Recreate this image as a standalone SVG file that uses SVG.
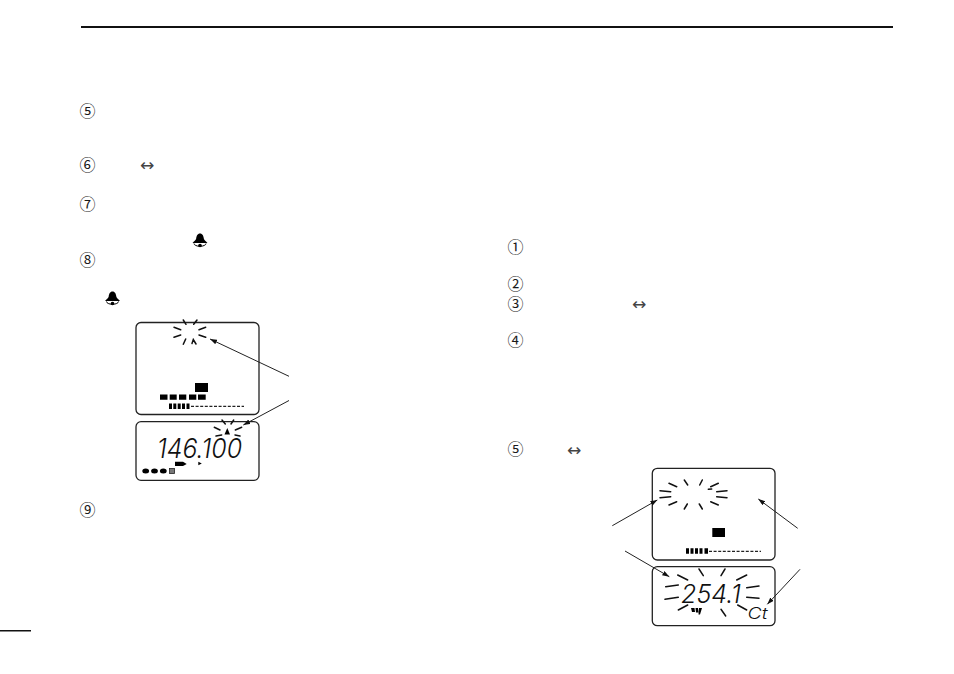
<svg xmlns="http://www.w3.org/2000/svg" width="954" height="674" viewBox="0 0 954 674">
<style>
.n{font-family:"Noto Sans CJK JP","DejaVu Sans",sans-serif;font-size:16px;text-anchor:middle;fill:#1a1a1a}
.a{font-family:"DejaVu Sans",sans-serif;font-size:17px;text-anchor:middle;fill:#444}
.lcd{fill:#fff;stroke:#222;stroke-width:1.3}
.r{stroke:#111;stroke-width:1.5;fill:none;stroke-linecap:round}
.d{font-family:"Inter","Liberation Sans",sans-serif;font-style:italic;font-weight:300;fill:#111}
.c{stroke:#222;stroke-width:1;fill:none;marker-end:url(#h)}
.dash{stroke:#222;stroke-width:1.2;stroke-dasharray:3 1.6;fill:none}
</style>
<defs>
<marker id="h" markerUnits="userSpaceOnUse" markerWidth="9" markerHeight="6" refX="7" refY="2.500" orient="auto"><path d="M0 0L7 2.500L0 5z" fill="#111"/></marker>
<path id="bell" d="M0-7.500C2.500-7.500 3.500-5 3.800-2.500C4.200-.5 6-.2 7.500 2L-7.500 2C-6-.2-4.200-.5-3.800-2.500C-3.500-5-2.500-7.500 0-7.500Z" fill="#000"/>
</defs>
<rect x="81" y="26" width="812" height="2" fill="#111"/>
<rect x="0" y="630" width="31" height="1.500" fill="#111"/>
<g id="steps-left">
<text class="n" x="87.500" y="116.500">⑤</text>
<text class="n" x="87.500" y="171">⑥</text>
<text class="n" x="87.500" y="209.500">⑦</text>
<text class="n" x="87.500" y="265.500">⑧</text>
<text class="n" x="87.500" y="515.500">⑨</text>
<text class="a" x="147" y="171">↔</text>
</g>
<g id="bell-1"><use href="#bell" x="200" y="241"/><path d="M-6 2.500A6 2.800 0 0 0 6 2.500" transform="translate(200 241)" fill="none" stroke="#000"/><circle cx="200" cy="245.500" r="1.800"/></g>
<g id="bell-2"><use href="#bell" x="112.500" y="299"/><path d="M-6 2.500A6 2.800 0 0 0 6 2.500" transform="translate(112.500 299)" fill="none" stroke="#000"/><circle cx="112.500" cy="303.500" r="1.800"/></g>
<g id="steps-right">
<text class="n" x="515.500" y="253">①</text>
<text class="n" x="515.500" y="290">②</text>
<text class="n" x="515.500" y="309.500">③</text>
<text class="n" x="515.500" y="346">④</text>
<text class="n" x="515.500" y="455">⑤</text>
<text class="a" x="639" y="310">↔</text>
<text class="a" x="574" y="456">↔</text>
</g>
<g id="lcd-1">
<rect class="lcd" x="136" y="322.500" width="123" height="92" rx="5"/>
<path class="r" d="M183.300 320L186 324.300M197 320L193.700 324.300M174 327.300L180.700 329.700M205.700 327.300L199 329.700M174 337.300L180.700 335M205.700 337.300L199 335M183.300 344.300L185.700 339M192 343.500L193.300 339.500L196 344"/>
<rect x="195" y="383" width="13" height="9"/>
<path d="M160 394.500h7.500v5.300h-7.500zM169.700 394.500h7v5.300h-7zM179 394.500h7.300v5.300h-7.300zM189 394.500h7.300v5.300h-7.300zM198 394.500h7.700v5.300h-7.700z"/>
<path d="M169 403.500h3v5.500h-3zM173.300 403.500h3v5.500h-3zM177.700 403.500h3v5.500h-3zM182 403.500h3v5.500h-3zM186.500 403.500h3v5.500h-3z"/>
<path class="dash" d="M191 406.300H244"/>
</g>
<g id="lcd-2">
<rect class="lcd" x="136" y="421.700" width="123" height="58.600" rx="5"/>
<path class="r" d="M222 420L225.300 424M233.700 420L231 424M214.300 427.300L220 430M241.700 427.300L235.300 430M216 436L221.700 435M240 436L235 435"/>
<path d="M227.300 428L230 434.500H224.500Z"/>
<text class="d" x="157" y="458" font-size="27" textLength="85" lengthAdjust="spacingAndGlyphs">146.100</text>
<ellipse cx="145.700" cy="471" rx="3.400" ry="2.500"/><ellipse cx="154.500" cy="471" rx="3.400" ry="2.500"/><ellipse cx="163.300" cy="471" rx="3.400" ry="2.500"/>
<rect x="169.500" y="468.500" width="5" height="5" fill="#777" stroke="#222" stroke-width=".8"/>
<path d="M175 461.700h8l3.700 2.200l-3.700 2.200h-8z"/>
<path d="M198.300 461.700L201.800 463.500L198.300 465.300Z"/>
</g>
<g id="lcd-3">
<rect class="lcd" x="652.300" y="468.300" width="122.700" height="91.700" rx="5"/>
<path class="r" d="M669 483.300L676.700 486.700M660 490.700L670.700 491.700M660 497.700L670.700 496.700M669 505L676.700 501.700M684.300 480L687.700 485M684.300 509L687.300 504M702.300 480L699.700 485M702.300 509L699.300 504M718.300 483.300L710.700 486.700M708.300 489.300L711.700 489M727 490.700L716.700 491.700M727 497.700L716.700 496.700M718.300 505L710.700 501.700"/>
<rect x="712.300" y="528" width="12.700" height="9"/>
<path d="M686 548.300h3v5.400h-3zM690.500 548.300h3v5.400h-3zM695 548.300h3v5.400h-3zM699.500 548.300h3v5.400h-3zM704.500 548.300h3.500v5.400h-3.500z"/>
<path class="dash" d="M709 551.300H761"/>
</g>
<g id="lcd-4">
<rect class="lcd" x="652.300" y="566.700" width="122.700" height="59" rx="5"/>
<path class="r" d="M677.700 575L687.700 580M665.700 586.700L678.300 585M665 599.300L678.300 597.300M678.300 610L687.700 605M699 569L703.300 575.700M725 569L721 575.700M746.700 575L736.700 580M759 586L746.700 587.700M759 598.300L746.700 597.300M746.700 610L737.700 605M721 609.300L725.700 616"/>
<text class="d" x="681" y="602.500" font-size="26" textLength="60" lengthAdjust="spacingAndGlyphs">254.1</text>
<path d="M691 608h3.500l.5 4h-3zM695.500 608h2.500l.5 4.500h-2.500zM699 608h3l-2 6.500h-1.500z"/>
<text class="d" x="747.500" y="619" font-size="16" textLength="20" lengthAdjust="spacingAndGlyphs">Ct</text>
</g>
<g id="connectors">
<path class="c" d="M289 376.300L210 339"/>
<path class="c" d="M289 400.500L243.300 425"/>
<path class="c" d="M612.300 525.700L657.300 500"/>
<path class="c" d="M797.700 528.300L758.300 499"/>
<path class="c" d="M625 551L669.300 576.700"/>
<path class="c" d="M800 569.300L767.300 604.300"/>
</g>
</svg>
